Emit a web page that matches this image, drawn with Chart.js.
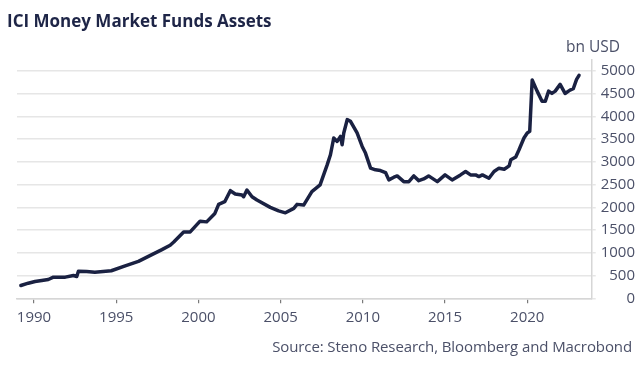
<!DOCTYPE html>
<html>
<head>
<meta charset="utf-8">
<script src="https://cdn.jsdelivr.net/npm/chart.js@4/dist/chart.umd.min.js"></script>
<style>
  body { margin: 0; background: #fff; }
  #wrap { position: relative; width: 642px; height: 367px; font-family: "Open Sans", sans-serif; }
  #wrap div { position: absolute; line-height: 1; white-space: nowrap; }
  .title { left: 7px; top: 12px; font-size: 17px; font-weight: 700; color: #1e2547; }
  .unit { right: 22px; top: 39px; font-size: 15.5px; color: #4b5068; }
  .source { right: 10px; top: 338.5px; font-size: 15px; color: #4b5068; letter-spacing: -0.1px; }
</style>
</head>
<body>
<div id="wrap">
  <canvas id="mmfChart" width="642" height="367"></canvas>
  <div class="title">ICI Money Market Funds Assets</div>
  <div class="unit">bn USD</div>
  <div class="source">Source: Steno Research, Bloomberg and Macrobond</div>
</div>
<script>
// dữ liệu (năm, tỷ USD)
const dates = [
  1989.2, 1989.65, 1990.06, 1990.47, 1990.87, 1991.18, 1991.9, 1992.4, 1992.6, 1992.7,
  1993.2, 1993.7, 1994.2, 1994.7, 1995.5, 1996.35, 1997.17, 1997.78, 1998.28, 1998.5,
  1999.1, 1999.5, 2000.1, 2000.5, 2001.0, 2001.23, 2001.6, 2001.94, 2002.24, 2002.65,
  2002.75, 2002.95, 2003.26, 2003.56, 2004.37, 2004.88, 2005.29, 2005.8, 2006.0, 2006.4,
  2006.9, 2007.4, 2007.83, 2008.03, 2008.23, 2008.44, 2008.64, 2008.74, 2008.84, 2009.05,
  2009.25, 2009.65, 2009.96, 2010.16, 2010.47, 2010.77, 2011.07, 2011.38, 2011.58, 2011.89,
  2012.09, 2012.49, 2012.8, 2013.1, 2013.4, 2013.7, 2014.0, 2014.53, 2015.0, 2015.43,
  2015.94, 2016.25, 2016.55, 2016.86, 2017.06, 2017.27, 2017.67, 2017.98, 2018.28, 2018.6,
  2018.9, 2019.0, 2019.3, 2019.5, 2019.8, 2020.0, 2020.15, 2020.3, 2020.6, 2020.9,
  2021.1, 2021.3, 2021.5, 2021.7, 2022.0, 2022.3, 2022.6, 2022.8, 2023.0, 2023.15
];
const assets = [
  281, 332, 369, 392, 414, 465, 465, 502, 480, 597,
  590, 575, 590, 606, 708, 812, 960, 1070, 1166, 1239,
  1460, 1460, 1697, 1681, 1867, 2066, 2124, 2367, 2294, 2272,
  2234, 2382, 2234, 2161, 2000, 1924, 1880, 1978, 2066, 2051,
  2345, 2493, 2935, 3157, 3526, 3451, 3561, 3378, 3636, 3931,
  3893, 3636, 3340, 3194, 2862, 2825, 2810, 2765, 2604, 2663,
  2692, 2566, 2566, 2692, 2588, 2626, 2692, 2566, 2714, 2604,
  2714, 2788, 2714, 2714, 2677, 2714, 2641, 2788, 2862, 2840,
  2913, 3046, 3106, 3267, 3526, 3636, 3672, 4800, 4557, 4336,
  4336, 4557, 4506, 4557, 4705, 4506, 4579, 4609, 4815, 4904
];
const yearTicks = [1990, 1995, 2000, 2005, 2010, 2015, 2020];
const valueTicks = [0, 500, 1000, 1500, 2000, 2500, 3000, 3500, 4000, 4500, 5000];

const tickColor = '#4b5068';
const tickFont = { family: 'Open Sans', size: 15 };

const ctx = document.getElementById('mmfChart').getContext('2d');
new Chart(ctx, {
  type: 'line',
  data: {
    datasets: [{
      data: dates.map((d, i) => ({ x: d, y: assets[i] })),
      borderColor: '#1a2142',
      borderWidth: 3.5,
      pointRadius: 0,
      tension: 0,
      borderJoinStyle: 'round',
      borderCapStyle: 'round'
    }]
  },
  options: {
    responsive: false,
    animation: false,
    devicePixelRatio: 1,
    layout: { padding: { left: 17, right: 7, top: 59.6, bottom: 0 } },
    plugins: { legend: { display: false }, tooltip: { enabled: false } },
    scales: {
      x: {
        type: 'linear',
        min: 1988.965,
        max: 2023.92,
        afterBuildTicks: axis => { axis.ticks = yearTicks.map(v => ({ value: v })); },
        afterFit: axis => { axis.height = 68.7; },
        grid: { drawOnChartArea: false, drawTicks: true, tickLength: 5, color: '#7a7a7a', lineWidth: 1.2 },
        border: { display: true, color: '#d6d6d6', width: 1.5 },
        ticks: { color: tickColor, font: tickFont, padding: 5, maxRotation: 0, callback: v => String(v) }
      },
      y: {
        position: 'right',
        min: 0,
        max: 5250,
        afterBuildTicks: axis => { axis.ticks = valueTicks.map(v => ({ value: v })); },
        afterFit: axis => { axis.width = 43.3; },
        grid: { color: '#e6e6e6', lineWidth: 1.5, tickLength: 4 },
        border: { display: true, color: '#d6d6d6', width: 1.5 },
        ticks: { color: tickColor, font: tickFont, crossAlign: 'far', padding: 5, callback: v => String(v) }
      }
    }
  }
});
</script>
</body>
</html>
